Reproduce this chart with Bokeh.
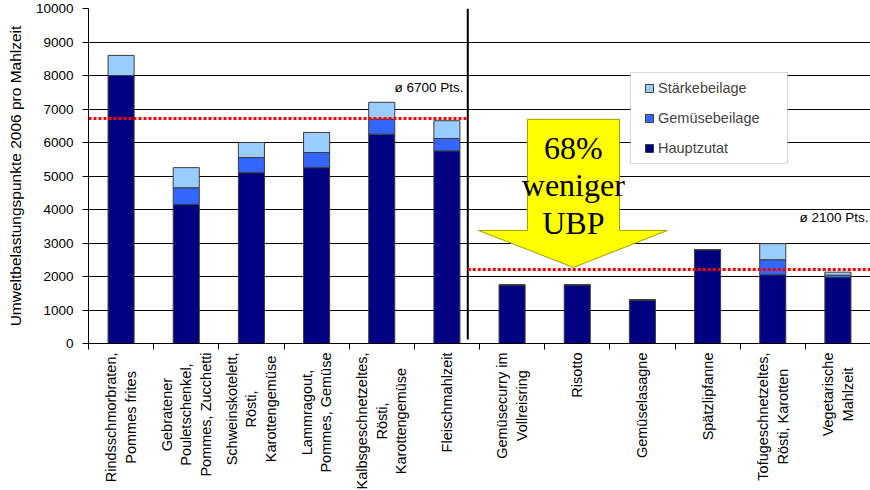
import math
from bokeh.plotting import figure
from bokeh.layouts import column
from bokeh.models import (Range1d, FixedTicker, Legend, LegendItem, BoxAnnotation,
                          ColumnDataSource)
from bokeh.core.properties import value
from bokeh.embed import file_html
from bokeh.resources import INLINE

# ---------------- data ----------------
categories = [
    "Rindsschmorbraten,\nPommes frites",
    "Gebratener\nPouletschenkel,\nPommes, Zucchetti",
    "Schweinskotelett,\nRösti,\nKarottengemüse",
    "Lammragout,\nPommes, Gemüse",
    "Kalbsgeschnetzeltes,\nRösti,\nKarottengemüse",
    "Fleischmahlzeit",
    "Gemüsecurry im\nVollreisring",
    "Risotto",
    "Gemüselasagne",
    "Spätzlipfanne",
    "Tofugeschnetzeltes,\nRösti, Karotten",
    "Vegetarische\nMahlzeit",
]
hauptzutat = [8000, 4150, 5100, 5250, 6250, 5750, 1750, 1750, 1300, 2800, 2050, 1970]
gemuesebeilage = [0, 500, 450, 450, 450, 370, 0, 0, 0, 0, 450, 70]
staerkebeilage = [600, 600, 450, 600, 500, 530, 0, 0, 0, 0, 480, 90]
series_names = ["Hauptzutat", "Gemüsebeilage", "Stärkebeilage"]
series_colors = ["#000080", "#3366FF", "#99CCFF"]
y_ticks = list(range(0, 10001, 1000))
y_title = "Umweltbelastungspunkte 2006 pro Mahlzeit"

avg_meat_level = 6720
avg_veg_level = 2210
avg_meat_label = "ø 6700 Pts."
avg_veg_label = "ø 2100 Pts."
arrow_lines = ["68%", "weniger", "UBP"]

FONT = "Liberation Sans"
n = len(categories)
divider = 5.82
x_centers = [i + 0.5 for i in range(n)]

# ---------------- main figure ----------------
W = 870
p = figure(width=W, height=351, x_range=Range1d(0, n), y_range=Range1d(0, 10000),
           output_backend="svg", toolbar_location=None,
           min_border_left=88, min_border_right=0, min_border_top=8, min_border_bottom=8)
p.outline_line_color = None
p.background_fill_color = "white"
p.border_fill_color = "white"

src = ColumnDataSource(dict(x=x_centers, Hauptzutat=hauptzutat,
                            **{"Gemüsebeilage": gemuesebeilage, "Stärkebeilage": staerkebeilage}))
rs = p.vbar_stack(series_names, x="x", width=0.4, source=src,
                  fill_color=series_colors, line_color="#3c3c3c", line_width=1)

# y axis
p.yaxis.ticker = FixedTicker(ticks=y_ticks)
p.yaxis.axis_label = y_title
p.yaxis.axis_label_text_font = FONT
p.yaxis.axis_label_text_font_size = "15.5px"
p.yaxis.axis_label_text_font_style = "normal"
p.yaxis.axis_label_text_color = "black"
p.yaxis.axis_label_standoff = 9
p.yaxis.major_label_text_font = FONT
p.yaxis.major_label_text_font_size = "13.5px"
p.yaxis.major_label_text_color = "black"
p.yaxis.major_label_standoff = 9
p.yaxis.major_tick_out = 6
p.yaxis.major_tick_in = 0
p.yaxis.minor_tick_line_color = None
p.yaxis.axis_line_color = "black"
p.yaxis.major_tick_line_color = "black"

p.ygrid.ticker = FixedTicker(ticks=y_ticks[:-1])
p.ygrid.grid_line_color = "black"
p.ygrid.grid_line_width = 1
p.xgrid.visible = False

# x axis: ticks at category boundaries, labels in the strip below
p.xaxis.ticker = FixedTicker(ticks=[], minor_ticks=list(range(n + 1)))
p.xaxis.major_label_text_font_size = "0px"
p.xaxis.major_label_standoff = 0
p.xaxis.major_tick_line_color = None
p.xaxis.major_tick_out = 0
p.xaxis.minor_tick_line_color = "black"
p.xaxis.minor_tick_out = 6
p.xaxis.minor_tick_in = 0
p.xaxis.axis_line_color = "black"

# divider & averages
p.segment(x0=[divider], x1=[divider], y0=[120], y1=[10000], line_color="black", line_width=2)
p.segment(x0=[0, divider], x1=[divider, n], y0=[avg_meat_level, avg_veg_level],
          y1=[avg_meat_level, avg_veg_level], line_color="#ff0000", line_width=3, line_dash="3 2")
p.text(x=[5.754, 11.97], y=[7630, 3750], text=[avg_meat_label, avg_veg_label],
       text_align="right", text_baseline="alphabetic", text_font=value(FONT),
       text_font_size="13.5px", text_color="black")

# arrow
ax = [6.736, 8.148, 8.148, 8.884, 7.442, 5.984, 6.736]
ay = [6691, 6691, 3375, 3375, 2270, 3375, 3375]
p.patch(ax, ay, fill_color="#ffff00", line_color="#a0a000", line_width=1)
p.text(x=[7.44] * 3, y=[5826, 4721, 3586], text=arrow_lines, text_align="center",
       text_baseline="alphabetic", text_font=value("Liberation Serif"),
       text_font_size="32px", text_color="black")

# legend
box = BoxAnnotation(left=8.317, right=10.726, top=8090, bottom=5373, fill_color="white",
                    fill_alpha=1, line_color="#808080", line_width=1, level="annotation")
p.add_layout(box)
legend = Legend(items=[LegendItem(label=series_names[k], renderers=[rs[k]]) for k in (2, 1, 0)],
                location=(556, 186), padding=7, spacing=12, label_height=18,
                glyph_height=10, glyph_width=10, label_standoff=4,
                label_text_font=FONT, label_text_font_size="14.5px",
                border_line_color=None, background_fill_alpha=0)
p.add_layout(legend)

# ---------------- category label strip ----------------
strip_h = 139
p2 = figure(width=W, height=strip_h, x_range=p.x_range, y_range=Range1d(-strip_h, 0),
            output_backend="svg", toolbar_location=None, x_axis_type=None, y_axis_type=None,
            min_border_left=88, min_border_right=0, min_border_top=0, min_border_bottom=0)
p2.outline_line_color = None
p2.grid.visible = False
p2.background_fill_color = "white"
p2.border_fill_color = "white"
p2.text(x=x_centers, y=[-1] * n, text=categories, angle=math.pi / 2,
        text_align="center", anchor="center_right", text_baseline="middle",
        text_font=value(FONT), text_font_size="14.5px", text_color="black",
        text_line_height=1.22)

layout = column(p, p2, spacing=0)
open("out.html", "w").write(file_html(layout, INLINE))
